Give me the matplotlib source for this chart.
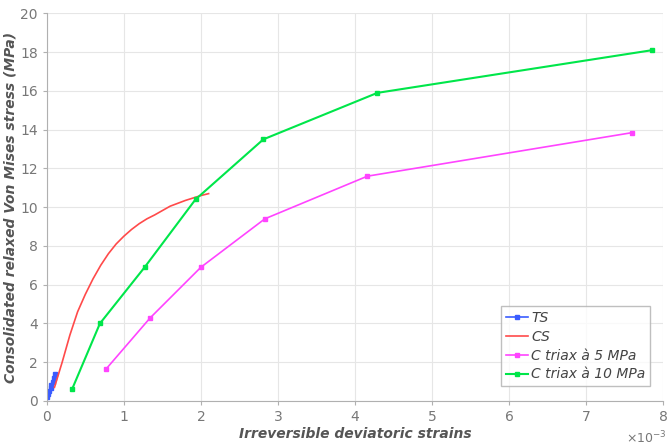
import matplotlib.pyplot as plt

# strains in units of 1e-3, stress in MPa
ts_x = [0.0, 0.02, 0.03, 0.05, 0.06, 0.08, 0.1, 0.11]
ts_y = [0.2, 0.35, 0.5, 0.65, 0.8, 1.0, 1.2, 1.4]

cs_x = [0.1, 0.2, 0.3, 0.4, 0.5, 0.6, 0.7, 0.8, 0.9, 1.0, 1.1, 1.2, 1.3, 1.4, 1.6, 1.8, 2.0, 2.1]
cs_y = [0.7, 2.0, 3.4, 4.6, 5.5, 6.3, 7.0, 7.6, 8.1, 8.5, 8.85, 9.15, 9.4, 9.6, 10.05, 10.35, 10.6, 10.7]

c5_x = [0.77, 1.34, 2.0, 2.83, 4.16, 7.6]
c5_y = [1.65, 4.28, 6.9, 9.4, 11.6, 13.85]

c10_x = [0.33, 0.69, 1.27, 1.93, 2.81, 4.29, 7.85]
c10_y = [0.62, 4.0, 6.9, 10.4, 13.5, 15.9, 18.1]

fig, ax = plt.subplots(figsize=(6.68, 4.47), dpi=100)
fig.subplots_adjust(left=0.07, right=0.993, bottom=0.103, top=0.97)

ax.plot(ts_x, ts_y, color='#3a5cff', marker='s', markersize=2.5, lw=1.2, label='TS')
ax.plot(cs_x, cs_y, color='#ff4a4a', lw=1.2, label='CS')
ax.plot(c5_x, c5_y, color='#ff44ff', marker='s', markersize=2.5, lw=1.2, label='C triax à 5 MPa')
ax.plot(c10_x, c10_y, color='#00e64a', marker='s', markersize=2.5, lw=1.5, label='C triax à 10 MPa')

ax.set_xlim(0, 8)
ax.set_ylim(0, 20)
ax.set_xticks(range(0, 9))
ax.set_yticks(range(0, 21, 2))
ax.grid(True, color='#e6e6e6', lw=0.8)
ax.set_axisbelow(True)
for s in ['top', 'right']:
    ax.spines[s].set_visible(False)
for s in ['left', 'bottom']:
    ax.spines[s].set_color('#b0b0b0')
ax.tick_params(colors='#b0b0b0', labelcolor='#777777', labelsize=10, length=3)

ax.set_xlabel('Irreversible deviatoric strains', fontsize=10, fontweight='bold',
              fontstyle='italic', color='#555555', labelpad=2)
ax.set_ylabel('Consolidated relaxed Von Mises stress (MPa)', fontsize=10, fontweight='bold',
              fontstyle='italic', color='#555555', labelpad=2)
ax.text(1.005, -0.075, r'$\times10^{-3}$', transform=ax.transAxes, ha='right', va='top',
        fontsize=9, color='#777777')

leg = ax.legend(loc='lower right', prop={'style': 'italic', 'size': 10},
                fancybox=False, edgecolor='#b0b0b0', handlelength=1.6,
                handletextpad=0.2, borderpad=0.35, labelspacing=0.35,
                bbox_to_anchor=(0.99, 0.02))
for t in leg.get_texts():
    t.set_color('#444444')

fig.savefig('out.png')
